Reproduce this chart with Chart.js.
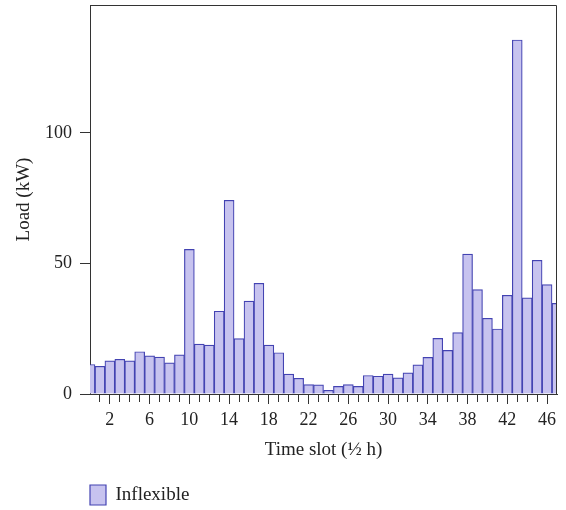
<!DOCTYPE html>
<html>
<head>
<meta charset="utf-8">
<script src="https://cdn.jsdelivr.net/npm/chart.js@4"></script>
<style>
  html, body { margin: 0; padding: 0; background: #fff; }
  #wrap { width: 566px; height: 510px; }
</style>
</head>
<body>
<div id="wrap"><canvas id="myChart"></canvas></div>
<script>
const slots = [0, 1, 2, 3, 4, 5, 6, 7, 8, 9, 10, 11, 12, 13, 14, 15, 16, 17, 18, 19, 20, 21, 22, 23,
  24, 25, 26, 27, 28, 29, 30, 31, 32, 33, 34, 35, 36, 37, 38, 39, 40, 41, 42, 43, 44, 45, 46, 47];
const inflexible = [11.3, 10.6, 12.7, 13.3, 12.7, 16.2, 14.6, 14.1, 11.9, 15.0, 55.4, 19.1,
  18.7, 31.7, 74.2, 21.2, 35.6, 42.4, 18.7, 15.8, 7.6, 6.0, 3.6, 3.5,
  1.4, 2.9, 3.6, 2.9, 7.1, 6.8, 7.6, 6.2, 8.1, 11.2, 14.0, 21.3,
  16.7, 23.5, 53.6, 40.0, 29.0, 24.9, 37.8, 135.6, 36.8, 51.2, 41.9, 34.7];
const xTickLabels = [2, 6, 10, 14, 18, 22, 26, 30, 34, 38, 42, 46];
const yTickValues = [0, 50, 100];

Chart.defaults.font.family = "'Liberation Serif', 'DejaVu Serif', serif";
Chart.defaults.font.size = 18;
Chart.defaults.color = "#222";

const axisColor = "#333";

// top + right edges of the plot box
const frame = {
  id: "frame",
  afterDatasetsDraw(chart) {
    const { ctx, chartArea: a } = chart;
    ctx.save();
    ctx.strokeStyle = axisColor;
    ctx.lineWidth = 1;
    ctx.beginPath();
    ctx.moveTo(Math.round(a.left) + 0.5, Math.round(a.top) + 0.5);
    ctx.lineTo(Math.round(a.right) - 0.5, Math.round(a.top) + 0.5);
    ctx.lineTo(Math.round(a.right) - 0.5, Math.round(a.bottom));
    ctx.stroke();
    ctx.restore();
  },
};

// legend sits under the plot's left edge, a bit lower
const legendShift = {
  id: "legendShift",
  afterLayout(chart) {
    const lg = chart.legend;
    lg.left = chart.chartArea.left - lg.options.labels.padding;
    lg.top += 5;
  },
};

new Chart("myChart", {
  type: "bar",
  data: {
    labels: slots,
    datasets: [
      {
        label: "Inflexible",
        data: inflexible,
        backgroundColor: "#c7c3ef",
        borderColor: "#4343b2",
        borderWidth: 1.2,
        categoryPercentage: 1,
        barPercentage: 1,
        clip: 0,
      },
    ],
  },
  options: {
    responsive: true,
    maintainAspectRatio: false,
    animation: false,
    layout: { padding: { top: 5, right: 9, left: 0, bottom: 0 } },
    plugins: {
      legend: {
        position: "bottom",
        align: "start",
        labels: { boxWidth: 16, boxHeight: 20, padding: 10, color: "#222", font: { size: 19 } },
      },
      tooltip: { enabled: false },
    },
    scales: {
      x: {
        offset: false,
        afterFit(scale) {
          scale.height = 76;
          scale.paddingLeft = 0;
          scale.paddingRight = 0;
        },
        border: { color: axisColor, width: 1 },
        grid: {
          offset: false,
          drawOnChartArea: false,
          tickLength: 10,
          tickColor: (c) => (c.index === 0 || c.index === slots.length - 1) ? "rgba(0,0,0,0)" : axisColor,
          tickBorderDash: (c) => xTickLabels.includes(slots[c.index]) ? [] : [7, 20],
        },
        ticks: {
          autoSkip: false,
          maxRotation: 0,
          padding: 5,
          callback: (v, i) => xTickLabels.includes(slots[i]) ? String(slots[i]) : "",
        },
        title: { display: true, text: "Time slot (½ h)", font: { size: 19 }, padding: { top: 4, bottom: 9 } },
      },
      y: {
        min: 0,
        max: 149,
        afterFit(scale) {
          scale.width = 90;
          scale.paddingTop = 0;
          scale.paddingBottom = 0;
        },
        afterBuildTicks(scale) { scale.ticks = yTickValues.map((v) => ({ value: v })); },
        border: { color: axisColor, width: 1 },
        grid: { drawOnChartArea: false, tickLength: 10, tickColor: axisColor },
        ticks: { padding: 8 },
        title: { display: true, text: "Load (kW)", font: { size: 19 }, padding: { top: 13, bottom: 4 } },
      },
    },
  },
  plugins: [frame, legendShift],
});
</script>
</body>
</html>
